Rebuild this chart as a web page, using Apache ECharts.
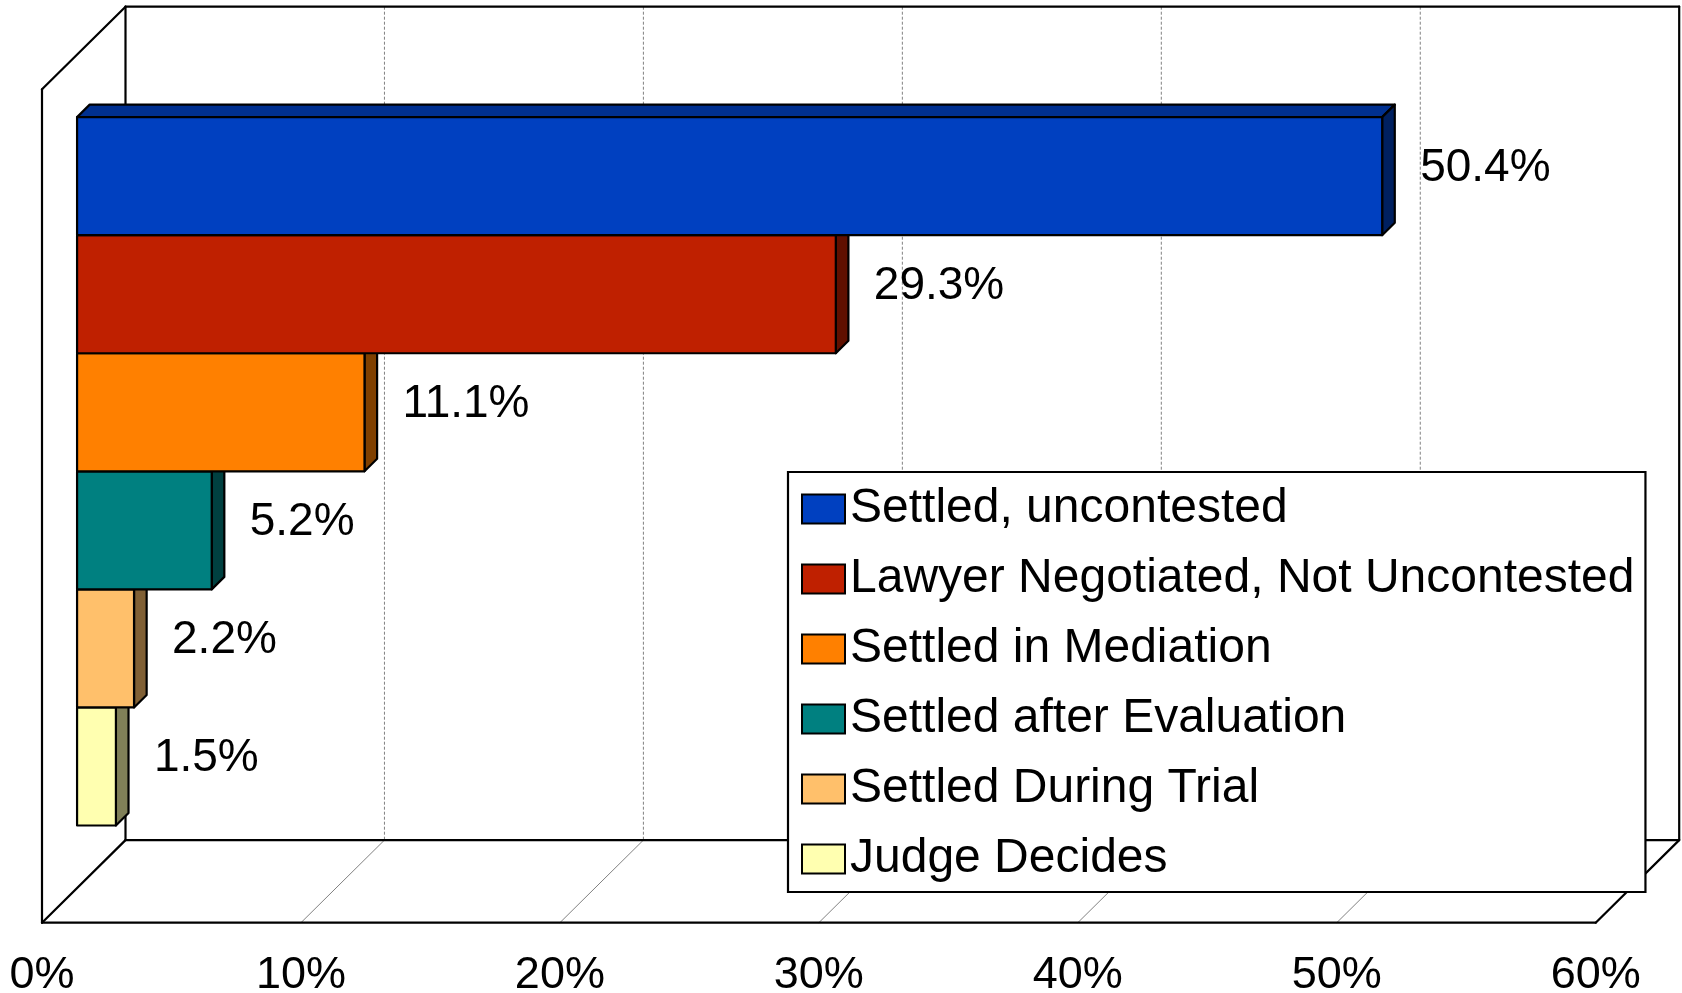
<!DOCTYPE html>
<html>
<head>
<meta charset="utf-8">
<script src="https://cdn.jsdelivr.net/npm/echarts@6/dist/echarts.min.js"></script>
<style>
  html, body { margin: 0; padding: 0; background: #fff; }
  #main { width: 1682px; height: 993px; }
</style>
</head>
<body>
<div id="main"></div>
<script>
// data
var categories = ['Settled, uncontested', 'Lawyer Negotiated, Not Uncontested', 'Settled in Mediation',
    'Settled after Evaluation', 'Settled During Trial', 'Judge Decides'];
var values = [50.4, 29.3, 11.1, 5.2, 2.2, 1.5];
var xTicks = [0, 10, 20, 30, 40, 50, 60];

// colours (front / top / side faces)
var frontColors = ['#0040C0', '#BF2000', '#FF8000', '#008080', '#FFC06B', '#FFFFB0'];
var topColors = ['#003090', '#8F1800', '#BF6000', '#006060', '#BF9050', '#BFBF84'];
var sideColors = ['#002060', '#601000', '#804000', '#004040', '#806035', '#808058'];

// fake 3d geometry
var DX = 83.5, DY = 82.6;     // depth of the box
var BAR_Z = 0.42;            // where the bar front sits in the depth
var BAR_D = 0.151;           // bar depth
var BAR_FILL = 0.85;         // share of the band used by the bars
var LINE = 2.2;
var FONT = '"Liberation Sans", Arial, sans-serif';

function plane(api) {
    var c0 = api.coord([xTicks[0], 0]);
    var band = api.size([0, 1])[1];
    return { x0: c0[0], x1: api.coord([xTicks[xTicks.length - 1], 0])[0], top: c0[1] - band / 2, bot: c0[1] + band / 2, cy: c0[1], band: band };
}

// walls, floor and gridlines
function renderFrame(params, api) {
    var p = plane(api);
    var lines = [];
    var edge = { stroke: '#000', lineWidth: LINE, lineCap: 'round', lineJoin: 'round' };
    function seg(x1, y1, x2, y2, style) {
        lines.push({ type: 'line', shape: { x1: x1, y1: y1, x2: x2, y2: y2 }, style: style });
    }
    for (var i = 1; i < xTicks.length - 1; i++) {
        var x = api.coord([xTicks[i], 0])[0];
        seg(x + DX, p.top - DY, x + DX, p.bot - DY, { stroke: '#808080', lineWidth: 1, lineDash: [3, 2] });
        seg(x, p.bot, x + DX, p.bot - DY, { stroke: '#808080', lineWidth: 1 });
    }
    // back wall
    seg(p.x0 + DX, p.top - DY, p.x1 + DX, p.top - DY, edge);
    seg(p.x0 + DX, p.top - DY, p.x0 + DX, p.bot - DY, edge);
    seg(p.x1 + DX, p.top - DY, p.x1 + DX, p.bot - DY, edge);
    seg(p.x0 + DX, p.bot - DY, p.x1 + DX, p.bot - DY, edge);
    // side wall
    seg(p.x0, p.top, p.x0 + DX, p.top - DY, edge);
    seg(p.x0, p.top, p.x0, p.bot, edge);
    seg(p.x0, p.bot, p.x0 + DX, p.bot - DY, edge);
    // floor
    seg(p.x0, p.bot, p.x1, p.bot, edge);
    seg(p.x1, p.bot, p.x1 + DX, p.bot - DY, edge);
    return { type: 'group', children: lines };
}

function barRenderer(idx) {
    return function (params, api) {
        var p = plane(api);
        var thick = p.band * BAR_FILL / categories.length;
        var fx = BAR_Z * DX, fy = -BAR_Z * DY;
        var bx = BAR_D * DX, by = -BAR_D * DY;
        var xa = p.x0 + fx;
        var xb = api.coord([api.value(0), 0])[0] + fx;
        var yt = p.cy - p.band * BAR_FILL / 2 + idx * thick + fy;
        var yb = yt + thick;
        var st = { stroke: '#000', lineWidth: LINE, lineJoin: 'round' };
        return {
            type: 'group',
            children: [
                { type: 'polygon', shape: { points: [[xa, yt], [xa + bx, yt + by], [xb + bx, yt + by], [xb, yt]] },
                  style: Object.assign({ fill: topColors[idx] }, st) },
                { type: 'polygon', shape: { points: [[xb, yt], [xb + bx, yt + by], [xb + bx, yb + by], [xb, yb]] },
                  style: Object.assign({ fill: sideColors[idx] }, st) },
                { type: 'rect', shape: { x: xa, y: yt, width: xb - xa, height: thick },
                  style: Object.assign({ fill: frontColors[idx] }, st) },
                { type: 'text', x: xb + 38, y: (yt + yb) / 2 - 8,
                  style: { text: api.value(0).toFixed(1) + '%', fill: '#000', fontSize: 46, fontFamily: FONT,
                           align: 'left', verticalAlign: 'middle' } }
            ]
        };
    };
}

var series = [{
    type: 'custom',
    name: 'frame',
    silent: true,
    z: 1,
    renderItem: renderFrame,
    data: [[xTicks[0], 0]]
}];
for (var i = 0; i < categories.length; i++) {
    series.push({
        type: 'custom',
        name: categories[i],
        z: 10 + (categories.length - i),
        itemStyle: { color: frontColors[i] },
        renderItem: barRenderer(i),
        data: [[values[i], 0]]
    });
}

var myChart = echarts.init(document.getElementById('main'));
var option = {
    animation: false,
    grid: { left: 42, right: 86.3, top: 89.3, bottom: 70.3, outerBoundsMode: 'none', containLabel: false },
    xAxis: {
        type: 'value',
        min: xTicks[0],
        max: xTicks[xTicks.length - 1],
        interval: 10,
        axisLine: { show: false },
        axisTick: { show: false },
        splitLine: { show: false },
        axisLabel: { formatter: '{value}%', color: '#000', fontSize: 45, fontFamily: FONT, margin: 30, lineHeight: 46 }
    },
    yAxis: {
        type: 'category',
        data: [''],
        show: false
    },
    legend: {
        orient: 'vertical',
        left: 788,
        top: 472,
        z: 30,
        data: categories,
        icon: 'rect',
        itemWidth: 43,
        itemHeight: 29,
        itemGap: 22,
        padding: [13, 11, 9, 13],
        backgroundColor: '#fff',
        borderColor: '#000',
        borderWidth: LINE,
        borderRadius: 0,
        itemStyle: { borderColor: '#000', borderWidth: 2 },
        textStyle: { color: '#000', fontSize: 48, lineHeight: 48, fontFamily: FONT },
        selectedMode: false
    },
    series: series
};
myChart.setOption(option);
</script>
</body>
</html>
